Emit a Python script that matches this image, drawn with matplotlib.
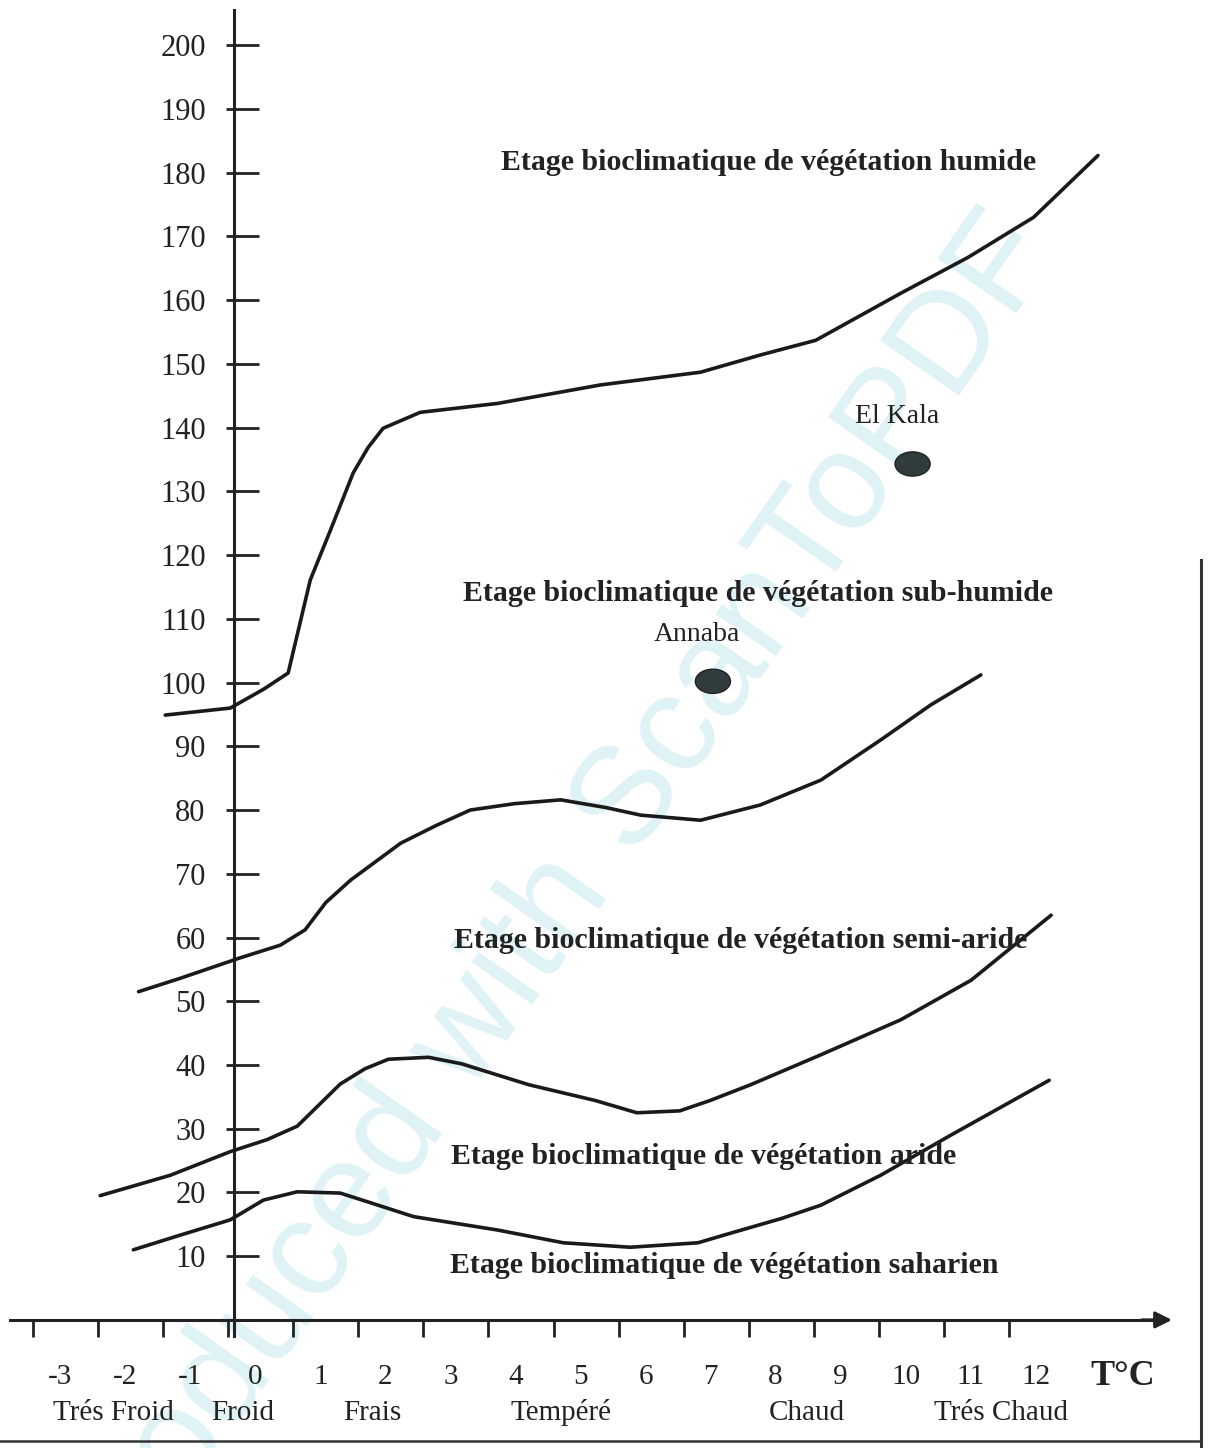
import numpy as np
import matplotlib
matplotlib.use("Agg")
import matplotlib.pyplot as plt
from matplotlib.patches import Ellipse
from matplotlib.transforms import ScaledTranslation
from matplotlib.lines import Line2D

# limites des etages bioclimatiques (T en °C, Q2)
x_humide = [-0.97, 0.03, 0.55, 0.92, 1.26, 1.57, 1.92, 2.15, 2.38, 2.95, 4.14, 5.72, 7.26, 8.18, 9.03, 10.34, 11.37, 12.38, 13.37]
y_humide = [94.9, 96.0, 99.0, 101.5, 116.1, 123.9, 132.9, 136.9, 139.9, 142.4, 143.8, 146.7, 148.7, 151.4, 153.7, 161.1, 166.7, 173.0, 182.7]

x_subhum = [-1.38, -0.74, 0.18, 0.8, 1.18, 1.5, 1.88, 2.65, 3.2, 3.72, 4.4, 5.11, 5.8, 6.34, 7.26, 8.18, 9.11, 10.03, 10.8, 11.57]
y_subhum = [51.5, 53.6, 56.8, 58.8, 61.2, 65.5, 69.0, 74.8, 77.6, 80.0, 81.0, 81.6, 80.4, 79.2, 78.4, 80.8, 84.7, 91.0, 96.5, 101.2]

x_semi = [-1.97, -0.89, 0.03, 0.6, 1.06, 1.4, 1.72, 2.1, 2.46, 3.08, 3.58, 4.62, 5.65, 6.28, 6.94, 7.4, 8.03, 9.11, 10.34, 11.42, 12.65]
y_semi = [19.5, 22.7, 26.4, 28.3, 30.4, 33.8, 37.0, 39.4, 40.9, 41.2, 40.2, 36.9, 34.4, 32.5, 32.8, 34.4, 36.9, 41.6, 47.1, 53.3, 63.5]

x_aride = [-1.46, -0.74, 0.03, 0.54, 1.06, 1.72, 2.18, 2.85, 4.14, 5.15, 6.18, 7.22, 7.72, 8.5, 9.11, 10.03, 11.11, 12.62]
y_aride = [11.0, 13.3, 15.7, 18.8, 20.1, 19.9, 18.4, 16.2, 14.1, 12.1, 11.4, 12.1, 13.6, 15.9, 18.0, 22.7, 29.0, 37.6]

stations = ["El Kala", "Annaba"]
st_x = [10.52, 7.45]
st_y = [134.3, 100.2]

yticks = list(range(10, 210, 10))
xticks = list(range(-3, 13))

zones = ["Trés Froid", "Froid", "Frais", "Tempéré", "Chaud", "Trés Chaud"]
zones_x = [-1.77, 0.22, 2.22, 5.11, 8.89, 11.88]

etages = ["Etage bioclimatique de végétation humide",
          "Etage bioclimatique de végétation sub-humide",
          "Etage bioclimatique de végétation semi-aride",
          "Etage bioclimatique de végétation aride",
          "Etage bioclimatique de végétation saharien"]
etages_x = [8.31, 8.14, 7.88, 7.31, 7.63]
etages_y = [181.6, 113.9, 59.6, 25.6, 8.6]

serif = "Liberation Serif"
ink = "#222222"

fig = plt.figure(figsize=(12.17, 14.48), dpi=100)
ax = fig.add_axes([0, 0, 1, 1])
ax.set_xlim(-3.51, 15.2)
ax.set_ylim(-20.1, 207.1)

# filigrane du scanner (derriere le dessin)
ax.text(0.455, 0.37, "Produced with ScanToPDF", rotation=55, rotation_mode="anchor",
        ha="center", va="center", fontsize=100, color="#dff2f5",
        family="Liberation Sans", transform=fig.transFigure, zorder=0)

ax.spines["top"].set_visible(False)
ax.spines["right"].set_visible(False)
ax.spines["left"].set_position(("data", 0.08))
ax.spines["bottom"].set_position(("data", 0))
ax.spines["left"].set_bounds(-2.5, 205.5)
ax.spines["bottom"].set_bounds(-3.35, 14.4)
for s in ["left", "bottom"]:
    ax.spines[s].set_linewidth(2.2)
    ax.spines[s].set_color(ink)
ax.patch.set_alpha(0)

ax.annotate("", xy=(14.55, 0), xytext=(14.0, 0),
            arrowprops=dict(arrowstyle="-|>", color=ink, lw=2.2, mutation_scale=25))

ax.set_yticks(yticks)
ax.set_yticklabels([str(v) for v in yticks], family=serif, fontsize=22)
ax.tick_params(axis="y", direction="in", length=18, width=2, pad=20, color=ink, labelcolor=ink)
ax.yaxis.remove_overlapping_locs = False
ax.set_yticks(yticks, minor=True)
ax.tick_params(axis="y", which="minor", direction="out", length=6, width=2, color=ink)

ax.set_xticks(xticks)
ax.set_xticklabels([str(v) for v in xticks], family=serif, fontsize=21)
ax.tick_params(axis="x", direction="out", length=12, width=2, pad=20, color=ink, labelcolor=ink)
for lab in ax.get_xticklabels():
    lab.set_transform(lab.get_transform() + ScaledTranslation(0.27, 0, fig.dpi_scale_trans))

# courbes
for xs, ys in [(x_humide, y_humide), (x_subhum, y_subhum), (x_semi, y_semi), (x_aride, y_aride)]:
    ax.plot(xs, ys, color="#1a1a1a", lw=2.6, solid_capstyle="round", solid_joinstyle="round", zorder=3)

# stations
for name, sx, sy in zip(stations, st_x, st_y):
    ax.add_patch(Ellipse((sx, sy), 0.54, 3.8, facecolor="#2f3b3d", edgecolor=ink, lw=1, zorder=4))
    ax.text(sx - 0.24, sy + 7.4, name, family=serif, fontsize=20, ha="center", va="center", color=ink)

for txt, tx, ty in zip(etages, etages_x, etages_y):
    ax.text(tx, ty, txt, family=serif, fontweight="bold", fontsize=21.5,
            ha="center", va="center", color=ink, zorder=5)

for txt, zx in zip(zones, zones_x):
    ax.text(zx, -14.6, txt, family=serif, fontsize=21, ha="center", va="center", color=ink)

ax.text(13.75, -8.9, "T°C", family=serif, fontweight="bold", fontsize=26,
        ha="center", va="center", color=ink)

# bords de la page scannee
fig.add_artist(Line2D([1201 / 1217, 1201 / 1217], [0, 1 - 560 / 1448], color="#333333", lw=2.2))
fig.add_artist(Line2D([0, 1200 / 1217], [1 - 1441 / 1448, 1 - 1441 / 1448], color="#333333", lw=1.8))

fig.savefig("out.png", dpi=100)
